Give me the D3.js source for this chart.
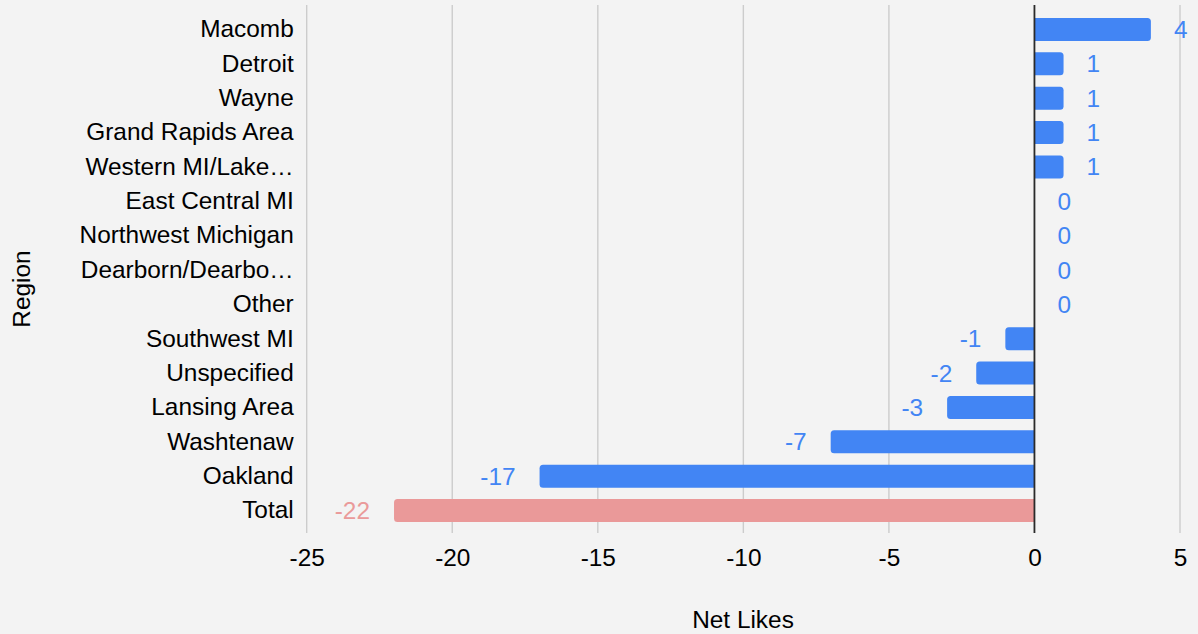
<!DOCTYPE html>
<html>
<head>
<meta charset="utf-8">
<script src="https://cdn.jsdelivr.net/npm/d3@7/dist/d3.min.js"></script>
<style>
  html, body { margin: 0; padding: 0; background: #f3f3f3; }
  svg { display: block; font-family: "Liberation Sans", Arial, Helvetica, sans-serif; }
</style>
</head>
<body>
<svg id="chart" width="1198" height="634"></svg>
<script>
// Net likes by region
const regions = ["Macomb", "Detroit", "Wayne", "Grand Rapids Area", "Western MI/Lake…",
  "East Central MI", "Northwest Michigan", "Dearborn/Dearbo…", "Other",
  "Southwest MI", "Unspecified", "Lansing Area", "Washtenaw", "Oakland", "Total"];
const netLikes = [4, 1, 1, 1, 1, 0, 0, 0, 0, -1, -2, -3, -7, -17, -22];
const xTicks = [-25, -20, -15, -10, -5, 0, 5];

const svg = d3.select("#chart");
const W = 1198, H = 634;
const FS = 24.4;
svg.append("rect").attr("width", W).attr("height", H).attr("fill", "#f3f3f3");

const plot = { left: 306.7, right: 1180, top: 5, bottom: 533 };

const x = d3.scaleLinear().domain([-25, 5]).range([plot.left, plot.right]);
const y = d3.scaleBand().domain(regions).range([12.3, 527.7]).paddingInner(0.33).paddingOuter(0.165);

const blue = "#4285f4", pink = "#ea9999";
const barColor = d => d.name === "Total" ? pink : blue;
const labelColor = d => d.name === "Total" ? "#ea9a9a" : blue;

// vertical gridlines
svg.append("g").selectAll("line")
  .data(xTicks.filter(t => t !== 0))
  .join("line")
  .attr("x1", d => x(d)).attr("x2", d => x(d))
  .attr("y1", plot.top).attr("y2", plot.bottom)
  .attr("stroke", "#cccccc").attr("stroke-width", 1.4);

const data = regions.map((name, i) => ({ name, value: netLikes[i] }));

// bars, rounded only at the end away from zero
const r = 3.5;
function barPath(d) {
  const y0 = y(d.name), h = y.bandwidth();
  const x0 = x(0), x1 = x(d.value);
  if (d.value === 0) return "";
  const dir = d.value > 0 ? 1 : -1;
  const rr = Math.min(r, Math.abs(x1 - x0));
  return `M${x0},${y0}` +
    `L${x1 - dir * rr},${y0}` +
    `Q${x1},${y0} ${x1},${y0 + rr}` +
    `L${x1},${y0 + h - rr}` +
    `Q${x1},${y0 + h} ${x1 - dir * rr},${y0 + h}` +
    `L${x0},${y0 + h}Z`;
}
svg.append("g").selectAll("path")
  .data(data)
  .join("path")
  .attr("d", barPath)
  .attr("fill", barColor);

// zero baseline
svg.append("line")
  .attr("x1", x(0)).attr("x2", x(0))
  .attr("y1", plot.top).attr("y2", plot.bottom)
  .attr("stroke", "#2a2a2a").attr("stroke-width", 1.8);

// value labels
svg.append("g").selectAll("text")
  .data(data)
  .join("text")
  .attr("x", d => d.value < 0 ? x(d.value) - 24 : x(d.value) + 23)
  .attr("y", d => y(d.name) + y.bandwidth() / 2)
  .attr("dy", "0.35em")
  .attr("text-anchor", d => d.value < 0 ? "end" : "start")
  .attr("font-size", FS)
  .attr("fill", labelColor)
  .text(d => String(d.value));

// category labels
const yAxis = d3.axisLeft(y).tickSize(0).tickPadding(13);
const gy = svg.append("g").attr("transform", `translate(${plot.left},0)`).call(yAxis);
gy.select(".domain").remove();
gy.selectAll("text").attr("font-size", FS).attr("fill", "#000")
  .attr("font-family", "'Liberation Sans', Arial, Helvetica, sans-serif");

// x tick labels
const xAxis = d3.axisBottom(x).tickValues(xTicks).tickSize(0).tickPadding(0).tickFormat(d => String(d));
const gx = svg.append("g").attr("transform", `translate(0,557)`).call(xAxis);
gx.select(".domain").remove();
gx.selectAll("text").attr("font-size", FS).attr("fill", "#000").attr("dy", "0.35em").attr("y", 0)
  .attr("font-family", "'Liberation Sans', Arial, Helvetica, sans-serif");

// axis titles
svg.append("text")
  .attr("x", 743).attr("y", 628)
  .attr("text-anchor", "middle")
  .attr("font-size", FS).attr("fill", "#000")
  .text("Net Likes");

svg.append("text")
  .attr("transform", "translate(30,289) rotate(-90)")
  .attr("text-anchor", "middle")
  .attr("font-size", FS).attr("fill", "#000")
  .text("Region");
</script>
</body>
</html>
